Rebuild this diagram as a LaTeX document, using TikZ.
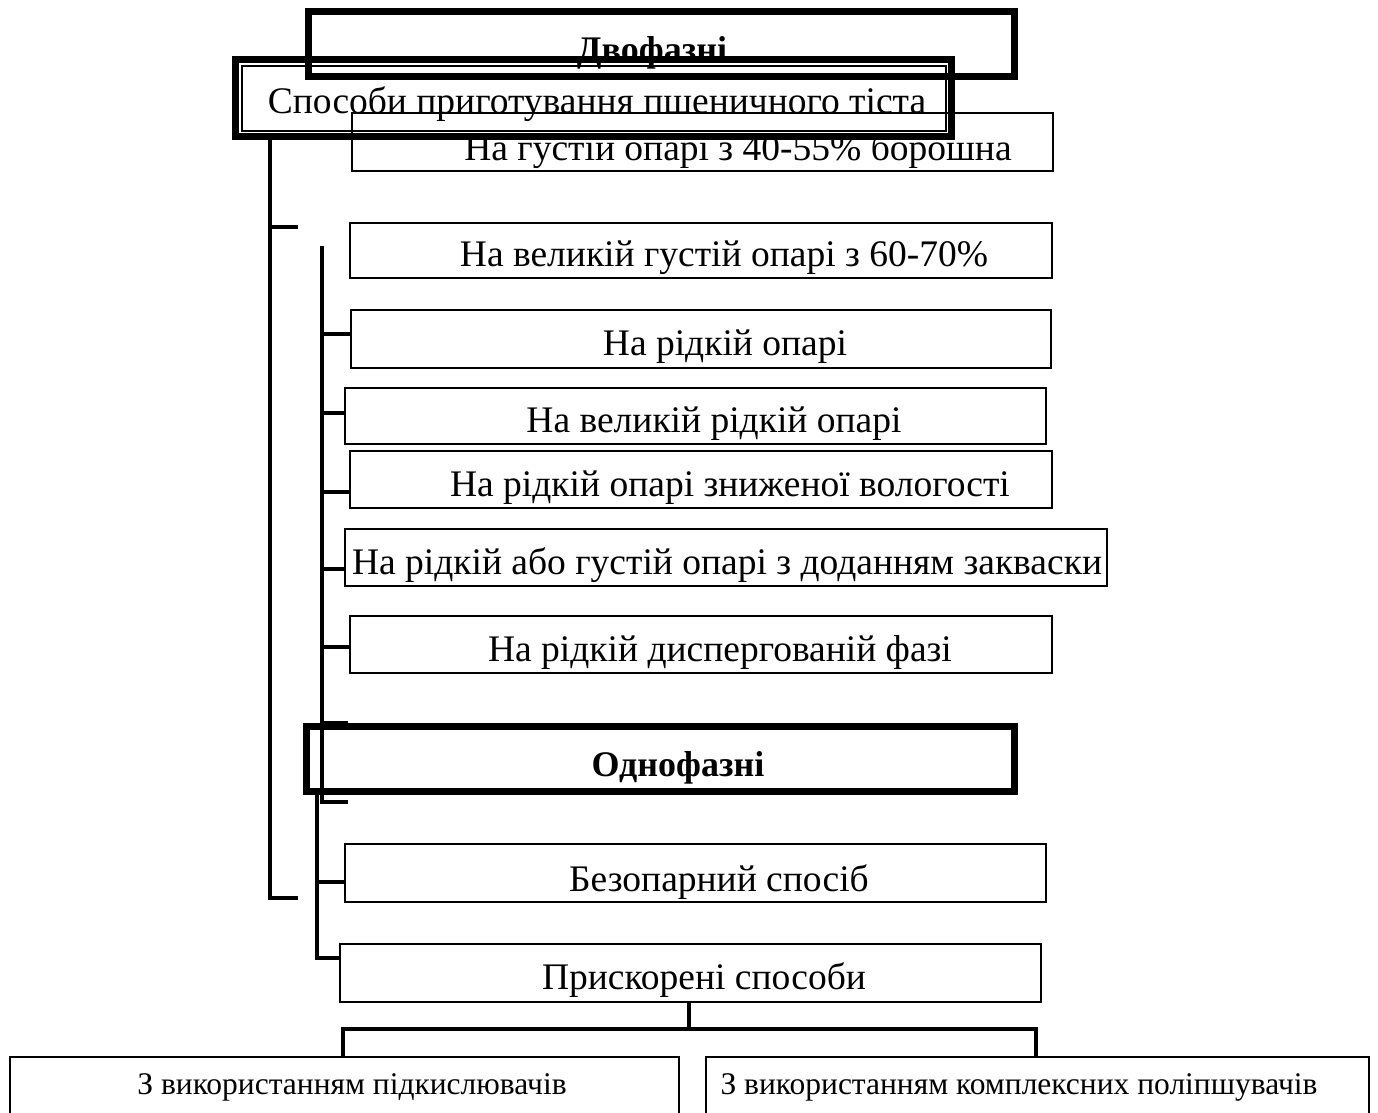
\documentclass[tikz,border=0pt]{standalone}
\usepackage{fontspec}
\setmainfont{Liberation Serif}
\usetikzlibrary{fit}
\begin{document}
\begin{tikzpicture}[x=0.5pt,y=-0.5pt,
  box/.style={draw, line width=1.25pt, inner sep=0pt},
  heavybox/.style={draw, line width=3.5pt, inner sep=0pt},
  innerbox/.style={draw, line width=0.75pt, inner sep=0pt},
  txt/.style={anchor=base, inner sep=0pt, font=\fontsize{18.75pt}{22pt}\selectfont},
  btxt/.style={anchor=base, inner sep=0pt, font=\fontsize{18pt}{22pt}\selectfont\bfseries},
  stxt/.style={anchor=base, inner sep=0pt, font=\fontsize{15.75pt}{19pt}\selectfont},
  conn/.style={line width=2pt},
  bconn/.style={line width=1.75pt}]
\clip (0,0) rectangle (1378,1113);
\fill[white] (0,0) rectangle (1378,1113);

% boxes
\node[heavybox, fit={(308,11.5) (1014,76.5)}] (dvo) {};
\node[heavybox, fit={(235.5,60) (951.5,136.5)}] (main) {};
\node[innerbox, fit={(242,66) (946,131)}] (maininner) {};
\node[box, fit={(352,113) (1053,171)}] (b3) {};
\node[box, fit={(350,223) (1052,278)}] (b4) {};
\node[box, fit={(351,310) (1051,368)}] (b5) {};
\node[box, fit={(345,388) (1046,444)}] (b6) {};
\node[box, fit={(350,451) (1052,508)}] (b7) {};
\node[box, fit={(345,529) (1107,586)}] (b8) {};
\node[box, fit={(350,616) (1052,673)}] (b9) {};
\node[heavybox, fit={(306.5,726.5) (1014.5,791.5)}] (odno) {};
\node[box, fit={(345,844) (1046,902)}] (b11) {};
\node[box, fit={(340,944) (1041,1002)}] (b12) {};
\node[box, fit={(10,1057) (679,1130)}] (bl) {};
\node[box, fit={(706,1057) (1369,1130)}] (br) {};

% texts
\node[btxt] (tdvo) at (652,62) {Двофазні};
\node[txt] (tmain) at (597,114) {Способи приготування пшеничного тіста};
\node[txt] (t3) at (738,161) {На густій опарі з 40-55\% борошна};
\node[txt] (t4) at (724,267) {На великій густій опарі з 60-70\%};
\node[txt] (t5) at (725,355.5) {На рідкій опарі};
\node[txt] (t6) at (714,432.5) {На великій рідкій опарі};
\node[txt] (t7) at (730,496) {На рідкій опарі зниженої вологості};
\node[txt] (t8) at (727,574) {На рідкій або густій опарі з доданням закваски};
\node[txt] (t9) at (720,661) {На рідкій диспергованій фазі};
\node[btxt] (todno) at (678,776) {Однофазні};
\node[txt] (t11) at (719,891) {Безопарний спосіб};
\node[txt] (t12) at (704,989) {Прискорені способи};
\node[stxt] (tbl) at (352,1094) {З використанням підкислювачів};
\node[stxt] (tbr) at (1019,1094) {З використанням комплексних поліпшувачів};

% first spine
\coordinate (L1) at (270,227);
\coordinate (L1e) at (298,227);
\coordinate (L2) at (270,898);
\coordinate (L2e) at (298,898);
\draw[conn] (L1e) -- (L1);
\draw[conn] (L2 |- main.south) -- (L2) -- (L2e);

% second spine
\coordinate (S2top) at (321.5,246);
\coordinate (S2bot) at (321.5,802);
\coordinate (S2end) at (348,802);
\draw[conn] (S2top) -- (S2bot) -- (S2end);
\coordinate (T5) at (321.5,334);
\coordinate (T6) at (321.5,413);
\coordinate (T7) at (321.5,492);
\coordinate (T8) at (321.5,569);
\coordinate (T9) at (321.5,647);
\coordinate (T10) at (321.5,723);
\coordinate (T10e) at (348,723);
\draw[conn] (T5) -- (T5 -| b5.west);
\draw[conn] (T6) -- (T6 -| b6.west);
\draw[conn] (T7) -- (T7 -| b7.west);
\draw[conn] (T8) -- (T8 -| b8.west);
\draw[conn] (T9) -- (T9 -| b9.west);
\draw[conn] (T10) -- (T10e);

% third spine
\coordinate (S3bot) at (317,958);
\coordinate (T11) at (317,882);
\draw[conn] (S3bot |- odno.south) -- (S3bot) -- (S3bot -| b12.west);
\draw[conn] (T11) -- (T11 -| b11.west);

% bottom split
\coordinate (J) at (689,1029);
\coordinate (JL) at (343,1029);
\coordinate (JR) at (1036,1029);
\draw[bconn] (b12.south -| J) -- (J);
\draw[bconn] (JL |- bl.north) -- (JL) -- (JR) -- (JR |- br.north);
\end{tikzpicture}
\end{document}
